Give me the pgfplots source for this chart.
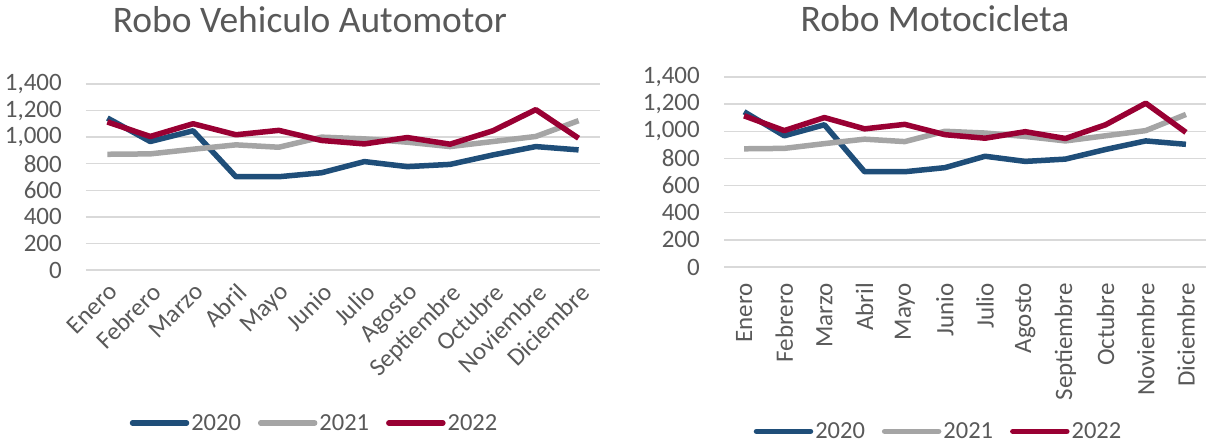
\documentclass[border=0pt]{standalone}
\usepackage{fontspec}
\setmainfont{Carlito}
\usepackage{pgfplots}
\pgfplotsset{compat=1.18}
\definecolor{c20}{HTML}{1F4E79}
\definecolor{c21}{HTML}{A5A5A5}
\definecolor{c22}{HTML}{990033}
\definecolor{txt}{HTML}{595959}
\definecolor{grd}{HTML}{D9D9D9}

\pgfplotsset{mystyle/.style={
 scale only axis, anchor=south west,
 xmin=-0.5, xmax=11.5, ymin=0, ymax=1400,
 xtick={0,...,11},
 xticklabels={Enero,Febrero,Marzo,Abril,Mayo,Junio,Julio,Agosto,Septiembre,Octubre,Noviembre,Diciembre},
 ytick={0,200,...,1400},
 axis line style={draw=none}, major tick length=0pt,
 ymajorgrids, grid style={grd, line width=1.5pt},
 tick label style={font=\fontsize{25}{30}\selectfont, text=txt},
 /pgf/number format/assume math mode=true,
 /pgf/number format/1000 sep={,},
 yticklabel style={anchor=east, inner sep=0pt},
 yticklabel shift=24pt,
 legend columns=3,
 legend style={draw=none, fill=none, font=\fontsize{24.5}{29}\selectfont, text=txt,
   /tikz/every even column/.append style={column sep=15pt}, anchor=center,
   nodes={inner sep=2pt}},
 legend image code/.code={\draw[##1, line cap=round] (0pt,0pt) -- (54pt,0pt);},
 every axis plot/.append style={line width=5.5pt, line join=round, no marks},
 clip=false,
}}

\pgfplotstableread{
x v20 v21 v22
0 1144 871 1114
1 967 874 1005
2 1048 909 1101
3 702 942 1018
4 702 924 1051
5 732 1000 975
6 816 987 949
7 778 962 997
8 795 929 947
9 866 967 1048
10 929 1005 1207
11 904 1124 992
}\datatab

\begin{document}
\begin{tikzpicture}
\begin{axis}[mystyle, at={(86pt,174pt)}, width=514pt, height=186pt,
 xticklabel style={rotate=45, anchor=north east, inner sep=0pt},
 xticklabel shift=12pt,
 legend style={at={(axis description cs:0.4446,-0.8226)}}]
\addplot[c20] table[x=x,y=v20]{\datatab};
\addplot[c21] table[x=x,y=v21]{\datatab};
\addplot[c22] table[x=x,y=v22]{\datatab};
\legend{2020,2021,2022}
\end{axis}
\begin{axis}[mystyle, at={(724pt,177pt)}, width=482pt, height=190pt,
 xticklabel style={rotate=90, anchor=east, inner sep=0pt},
 xticklabel shift=16pt,
 legend style={at={(axis description cs:0.445,-0.865)}}]
\addplot[c20] table[x=x,y=v20]{\datatab};
\addplot[c21] table[x=x,y=v21]{\datatab};
\addplot[c22] table[x=x,y=v22]{\datatab};
\legend{2020,2021,2022}
\end{axis}
\node[anchor=base, text=txt, font=\fontsize{37.5}{45}\selectfont] at (310pt,411pt) {Robo Vehiculo Automotor};
\node[anchor=base, text=txt, font=\fontsize{37.5}{45}\selectfont] at (935pt,412pt) {Robo Motocicleta};
\pgfresetboundingbox
\path[use as bounding box] (0,0) rectangle (1206pt,444pt);
\end{tikzpicture}
\end{document}
